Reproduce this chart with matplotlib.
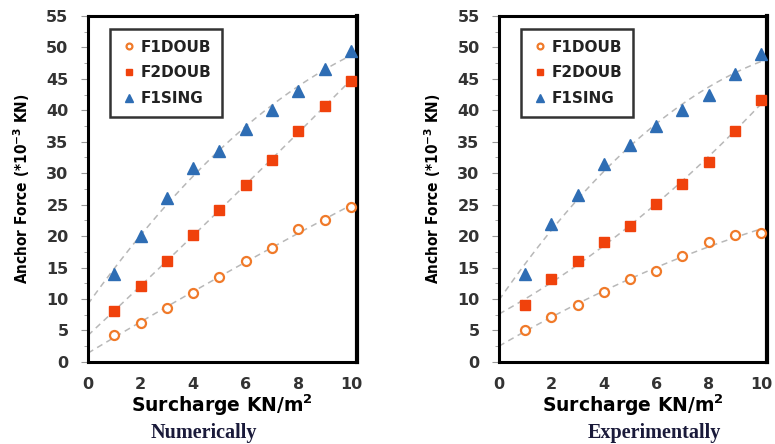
import numpy as np
import matplotlib.pyplot as plt
from matplotlib.ticker import MultipleLocator

surcharge = [1, 2, 3, 4, 5, 6, 7, 8, 9, 10]

# numerically
num_f1doub = [4.2, 6.2, 8.5, 11.0, 13.5, 16.0, 18.1, 21.1, 22.5, 24.7]
num_f2doub = [8.1, 12.1, 16.1, 20.1, 24.1, 28.1, 32.1, 36.7, 40.7, 44.7]
num_f1sing = [14.0, 20.0, 26.0, 30.8, 33.6, 37.0, 40.0, 43.0, 46.5, 49.5]

# experimentally
exp_f1doub = [5.1, 7.1, 9.1, 11.1, 13.1, 14.5, 16.9, 19.1, 20.1, 20.5]
exp_f2doub = [9.1, 13.1, 16.1, 19.1, 21.6, 25.1, 28.3, 31.8, 36.7, 41.7]
exp_f1sing = [14.0, 22.0, 26.5, 31.5, 34.5, 37.5, 40.0, 42.5, 45.7, 49.0]

captions = ['Numerically', 'Experimentally']
caption_x = [0.263, 0.845]

c_circ = '#f07a2a'
c_sq = '#f0420c'
c_tri = '#2e6db4'

fig = plt.figure(figsize=(7.75, 4.44), dpi=100)
ax1 = fig.add_axes([0.1135, 0.185, 0.347, 0.779])
ax2 = fig.add_axes([0.6439, 0.185, 0.3458, 0.779])

for ax, d1, d2, d3 in [(ax1, num_f1doub, num_f2doub, num_f1sing),
                       (ax2, exp_f1doub, exp_f2doub, exp_f1sing)]:
    xs = np.linspace(0, 10, 100)
    # trendlines (2nd order poly)
    for d in (d1, d2, d3):
        p = np.polyfit(surcharge, d, 2)
        ax.plot(xs, np.polyval(p, xs), ls=(0, (4, 3)), color='#b8b8b8', lw=1.1, zorder=1)
    ax.plot(surcharge, d1, 'o', mfc='white', mec=c_circ, mew=1.6, ms=6.5, ls='none', label='F1DOUB', zorder=3)
    ax.plot(surcharge, d2, 's', color=c_sq, ms=7, ls='none', label='F2DOUB', zorder=3)
    ax.plot(surcharge, d3, '^', color=c_tri, ms=8, ls='none', label='F1SING', zorder=3)

    ax.set_xlim(0, 10.23)
    ax.set_ylim(0, 55)
    ax.set_xticks([0, 2, 4, 6, 8, 10])
    ax.set_yticks(range(0, 56, 5))
    ax.yaxis.set_minor_locator(MultipleLocator(2.5))
    ax.tick_params(axis='y', which='major', length=5, color='#999999', direction='out', pad=9)
    ax.tick_params(axis='y', which='minor', length=3, color='#999999', direction='out')
    ax.tick_params(axis='x', length=0, pad=11)
    for lbl in ax.get_xticklabels() + ax.get_yticklabels():
        lbl.set_fontweight('bold')
        lbl.set_fontsize(11.5)
        lbl.set_color('#333333')
    for s in ax.spines.values():
        s.set_linewidth(2.2)
    ax.spines['right'].set_linewidth(3)
    ax.set_xlabel('Surcharge KN/m$^\\mathbf{2}$', fontsize=13.5, fontweight='bold', labelpad=0)
    ax.set_ylabel('Anchor Force (*10$^\\mathbf{-3}$ KN)', fontsize=11, fontweight='bold',
                  fontstretch='condensed', labelpad=10)
    leg = ax.legend(loc='upper left', bbox_to_anchor=(0.055, 0.985), markerscale=0.65,
                    frameon=True, fancybox=False, borderpad=0.7, labelspacing=0.7,
                    handletextpad=0.3, handlelength=1.0, prop={'weight': 'bold', 'size': 11})
    leg.get_frame().set_edgecolor('black')
    leg.get_frame().set_linewidth(1.8)
    for t in leg.get_texts():
        t.set_color('#222222')

for cx, cap in zip(caption_x, captions):
    fig.text(cx, 1 - 433 / 444, cap, ha='center', va='center',
             family='Liberation Serif', fontweight='bold', fontsize=14.5, color='#1a1a3a')

fig.savefig('out.png', dpi=100)
